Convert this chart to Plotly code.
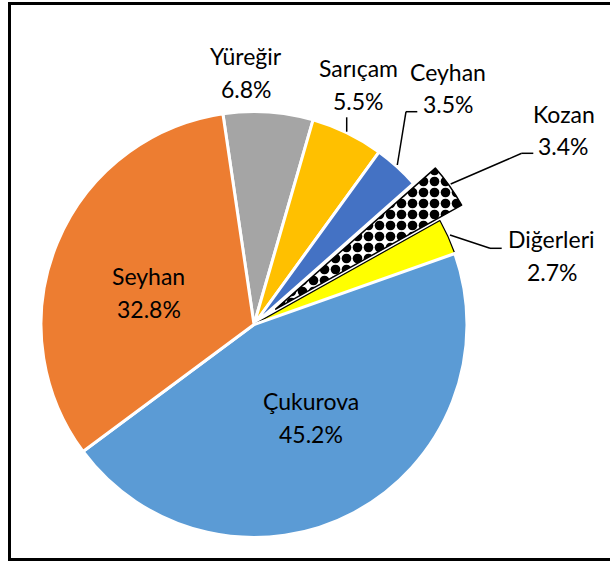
import plotly.graph_objects as go

# ---- data ----
labels = ["Yüreğir", "Sarıçam", "Ceyhan", "Kozan", "Diğerleri", "Çukurova", "Seyhan"]
values = [6.8, 5.5, 3.5, 3.4, 2.7, 45.2, 32.8]
colors = ["#A5A5A5", "#FFC000", "#4472C4", "#FFFFFF", "#FFFF00", "#5B9BD5", "#ED7D31"]
pulls = [0, 0, 0, 0.125, 0, 0, 0]

W, H = 610, 567
FONT = "Lato"
FS = 23


def px(x):
    return x / W


def py(y):
    return 1 - y / H


line_colors = ["white", "white", "white", "black", "black", "white", "white"]
line_widths = [3, 3, 3, 1.5, 1.2, 3, 3]
pattern_shapes = ["", "", "", ".", "", "", ""]

fig = go.Figure(go.Pie(
    labels=labels,
    values=values,
    sort=False,
    direction="clockwise",
    rotation=-8.4,
    pull=pulls,
    textinfo="none",
    hoverinfo="label+percent",
    marker=dict(
        colors=colors,
        line=dict(color=line_colors, width=line_widths),
        pattern=dict(shape=pattern_shapes, fgcolor="black", fgopacity=1,
                     fillmode="overlay", size=11, solidity=0.6),
    ),
    domain=dict(x=[0.0236, 0.8092], y=[0.0051, 0.8503]),
    showlegend=False,
))

# label positions (pixel centres of name line and value line)
label_pos = {
    "Yüreğir": ((246, 56.5), (246.5, 89)),
    "Sarıçam": ((358.5, 68.5), (358, 101)),
    "Ceyhan": ((447.5, 72), (448, 104.5)),
    "Kozan": ((563.5, 113.5), (563, 146)),
    "Diğerleri": ((551, 239), (552, 272)),
    "Çukurova": ((311, 401), (311, 434)),
    "Seyhan": ((148.5, 276), (148.5, 309)),
}

annotations = []
for lab, val in zip(labels, values):
    (nx, ny), (vx, vy) = label_pos[lab]
    for txt, x, y in ((lab, nx, ny), (f"{val:.1f}%", vx, vy)):
        annotations.append(dict(
            text=txt, x=px(x), y=py(y), xref="paper", yref="paper",
            xanchor="center", yanchor="middle", showarrow=False,
            font=dict(family=FONT, size=FS, color="black"),
        ))

# leader lines (pixel polylines)
leaders = [
    [(346.7, 117.3), (346.7, 131.7)],
    [(397.3, 165), (406, 111.7), (417.3, 111.7)],
    [(450.7, 184), (521.7, 153.3), (533.3, 153.3)],
    [(450, 235), (490, 248.3), (501.7, 248.3)],
]
shapes = []
for pts in leaders:
    for (x0, y0), (x1, y1) in zip(pts[:-1], pts[1:]):
        shapes.append(dict(type="line", xref="paper", yref="paper",
                           x0=px(x0), y0=py(y0), x1=px(x1), y1=py(y1),
                           line=dict(color="black", width=1.5)))

# outer border of the chart area
shapes.append(dict(type="rect", xref="paper", yref="paper",
                   x0=px(9.5), x1=px(620), y0=py(559.5), y1=py(3.5),
                   line=dict(color="black", width=3)))

fig.update_layout(
    width=W, height=H,
    margin=dict(l=0, r=0, t=0, b=0),
    paper_bgcolor="white",
    plot_bgcolor="white",
    annotations=annotations,
    shapes=shapes,
    font=dict(family=FONT),
)

fig.write_html("out.html",
               config={"displayModeBar": False},
               post_script="document.body.style.margin='0';document.body.style.overflow='hidden';")
